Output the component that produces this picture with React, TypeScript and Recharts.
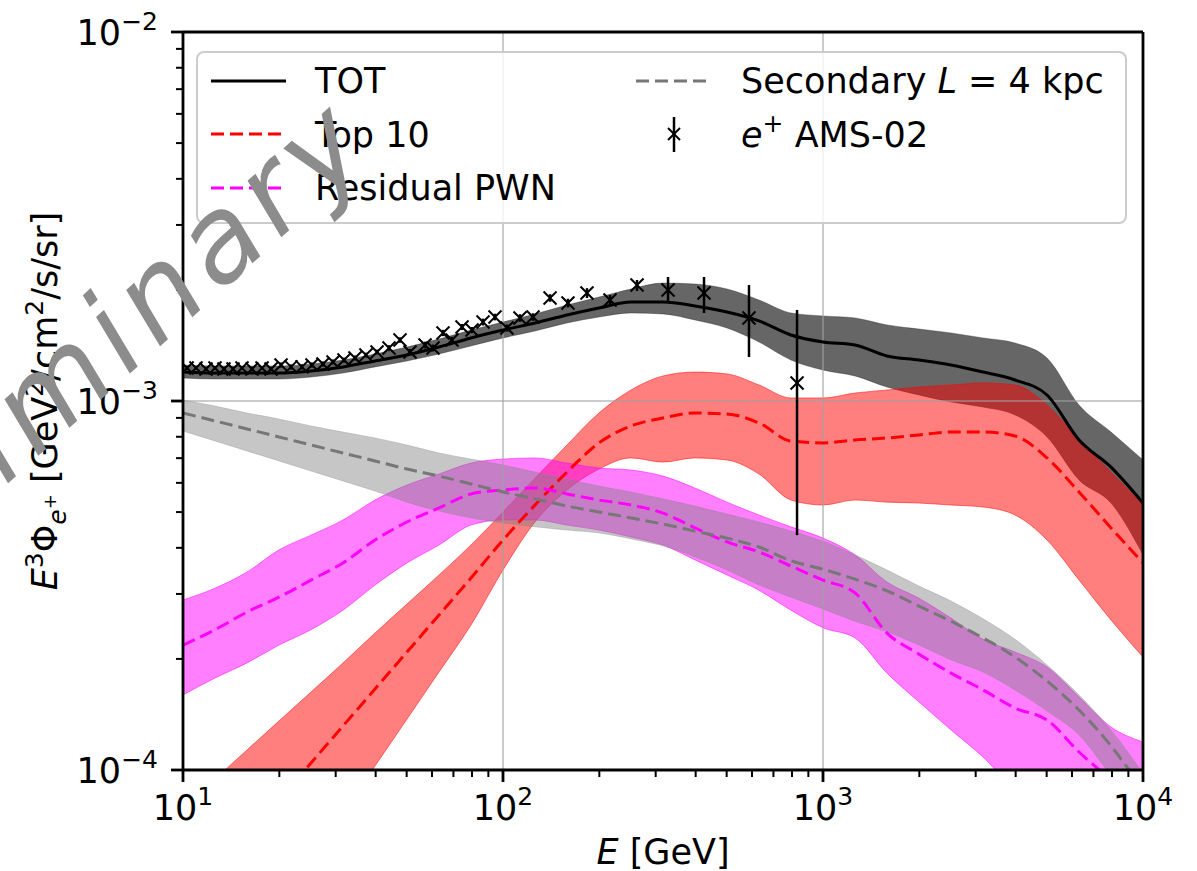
import React from "react";
import { ComposedChart, Area, Line, Scatter, ErrorBar, XAxis, YAxis, ReferenceLine } from "recharts";

document.body.style.margin = "0";

const FONT = "DejaVu Sans";
const W = 1197;
const H = 871;
const PLOT_LEFT = 183;
const PLOT_BOTTOM = 770;

// model grid, E in GeV
const energy = [10, 12.59, 15.85, 19.95, 25.12, 31.62, 39.81, 50.12, 63.1, 79.43, 100, 125.9, 158.5, 199.5, 251.2, 316.2, 398.1, 501.2, 631, 794.3, 1000, 1259, 1585, 1995, 2512, 3162, 3981, 5012, 6310, 7943, 10000];

// all fluxes in units of 1e-4 GeV^2/cm^2/s/sr
const totMid = [11.98, 11.91, 11.91, 11.91, 12.06, 12.37, 12.84, 13.32, 14.01, 14.82, 15.57, 16.27, 17.11, 17.87, 18.55, 18.55, 18.09, 17.42, 16.48, 15.1, 14.45, 14.18, 13.24, 12.91, 12.52, 11.98, 11.4, 10.38, 7.84, 6.62, 5.29];
const totHigh = [12.52, 12.44, 12.44, 12.44, 12.6, 12.91, 13.41, 14.01, 14.72, 15.57, 16.37, 17.21, 18.2, 19.13, 20.12, 20.88, 20.75, 20.12, 18.78, 17.32, 17.0, 16.79, 16.07, 15.67, 15.29, 14.82, 14.36, 13.08, 9.75, 8.24, 6.92];
const totLow = [11.54, 11.47, 11.47, 11.47, 11.61, 11.91, 12.37, 12.84, 13.41, 14.1, 14.82, 15.48, 16.27, 16.89, 17.32, 17.21, 16.58, 15.77, 14.45, 12.91, 12.13, 11.69, 10.91, 10.38, 9.94, 9.63, 9.17, 7.99, 6.11, 5.29, 3.83];

const top10Mid = [0.415, 0.523, 0.658, 0.829, 1.045, 1.316, 1.658, 2.088, 2.631, 3.314, 4.201, 5.225, 6.42, 7.7, 8.56, 8.99, 9.28, 9.22, 8.72, 7.79, 7.7, 7.84, 7.94, 8.09, 8.24, 8.24, 8.04, 7.01, 5.67, 4.53, 3.64];
const top10High = [0.789, 0.945, 1.133, 1.358, 1.627, 1.95, 2.351, 2.818, 3.377, 4.072, 5.003, 6.18, 7.6, 9.28, 10.71, 11.69, 11.98, 11.84, 11.05, 10.19, 10.19, 10.51, 10.71, 10.91, 11.05, 11.19, 11.05, 9.75, 7.84, 6.42, 5.225];
const top10Low = [0.179, 0.24, 0.321, 0.428, 0.574, 0.77, 1.025, 1.374, 1.843, 2.471, 3.483, 4.7, 5.74, 6.54, 7.01, 6.83, 7.01, 6.92, 6.34, 5.39, 5.225, 5.39, 5.32, 5.29, 5.225, 5.16, 4.91, 4.201, 3.273, 2.55, 2.024];

const pwnMid = [2.18, 2.4, 2.68, 2.94, 3.27, 3.64, 4.2, 4.7, 5.13, 5.6, 5.74, 5.81, 5.6, 5.39, 5.225, 4.97, 4.53, 4.15, 3.9, 3.57, 3.27, 3.02, 2.35, 2.06, 1.83, 1.648, 1.472, 1.366, 1.119, 0.939, 0.779];
const pwnHigh = [2.89, 3.11, 3.44, 3.95, 4.33, 4.76, 5.39, 5.92, 6.34, 6.79, 6.96, 7.01, 6.79, 6.58, 6.5, 6.26, 5.81, 5.32, 4.91, 4.56, 4.25, 3.83, 3.23, 2.92, 2.58, 2.26, 2.088, 1.901, 1.577, 1.308, 1.191];
const pwnLow = [1.597, 1.775, 1.95, 2.18, 2.4, 2.71, 3.17, 3.64, 4.07, 4.61, 4.76, 4.76, 4.61, 4.47, 4.28, 4.07, 3.71, 3.377, 3.07, 2.71, 2.43, 2.28, 1.83, 1.529, 1.284, 1.084, 0.883, 0.779, 0.688, 0.626, 0.57];

const secMid = [9.28, 8.83, 8.4, 7.99, 7.6, 7.23, 6.88, 6.54, 6.26, 5.96, 5.67, 5.43, 5.19, 5.003, 4.82, 4.64, 4.44, 4.25, 4.02, 3.69, 3.5, 3.29, 3.06, 2.78, 2.53, 2.28, 2.024, 1.743, 1.454, 1.162, 0.883];
const secHigh = [10.06, 9.69, 9.28, 8.94, 8.56, 8.24, 7.94, 7.6, 7.23, 6.96, 6.71, 6.42, 6.15, 5.88, 5.67, 5.43, 5.19, 4.94, 4.7, 4.44, 4.17, 3.83, 3.483, 3.15, 2.87, 2.57, 2.26, 1.926, 1.597, 1.284, 0.981];
const secLow = [8.29, 7.79, 7.32, 6.88, 6.46, 6.07, 5.7, 5.32, 5.03, 4.82, 4.67, 4.56, 4.47, 4.39, 4.23, 4.05, 3.78, 3.483, 3.17, 2.94, 2.73, 2.53, 2.37, 2.18, 1.987, 1.843, 1.648, 1.445, 1.244, 0.969, 0.779];

// AMS-02 positrons
const amsE = [10.3, 10.98, 11.8, 12.59, 13.43, 14.33, 15.29, 16.43, 17.66, 18.84, 20.25, 21.76, 23.54, 25.3, 27.38, 29.43, 31.85, 34.47, 37.3, 40.4, 44.04, 47.66, 51.22, 57.06, 60.43, 64.94, 69.28, 74.46, 80.03, 86.6, 94.41, 102.9, 113.0, 124.1, 140.3, 159.6, 183.0, 216.0, 262.3, 327.9, 424.8, 587.1, 829.6];
const amsFlux = [12.29, 12.29, 12.21, 12.29, 12.21, 12.21, 12.29, 12.21, 12.29, 12.21, 12.52, 12.37, 12.37, 12.52, 12.6, 12.76, 12.91, 13.08, 13.32, 13.58, 13.92, 14.63, 13.58, 14.18, 13.92, 15.29, 14.63, 15.87, 15.57, 16.37, 16.89, 15.77, 16.79, 16.89, 19.02, 18.43, 19.62, 18.78, 20.62, 19.99, 19.62, 16.79, 11.19];
const amsErrLow = [0.15, 0.15, 0.15, 0.15, 0.15, 0.15, 0.15, 0.15, 0.15, 0.15, 0.2, 0.2, 0.2, 0.2, 0.2, 0.2, 0.2, 0.2, 0.2, 0.2, 0.25, 0.25, 0.25, 0.3, 0.3, 0.3, 0.3, 0.3, 0.3, 0.35, 0.35, 0.35, 0.4, 0.4, 0.45, 0.5, 0.6, 0.6, 0.75, 1.56, 2.3, 3.63, 6.86];
const amsErrHigh = [0.15, 0.15, 0.15, 0.15, 0.15, 0.15, 0.15, 0.15, 0.15, 0.15, 0.2, 0.2, 0.2, 0.2, 0.2, 0.2, 0.2, 0.2, 0.2, 0.2, 0.25, 0.25, 0.25, 0.3, 0.3, 0.3, 0.3, 0.3, 0.3, 0.35, 0.35, 0.35, 0.4, 0.4, 0.45, 0.5, 0.6, 0.6, 0.66, 1.69, 2.06, 3.83, 6.46];

const xTicks = [10, 20, 30, 40, 50, 60, 70, 80, 90, 100, 200, 300, 400, 500, 600, 700, 800, 900, 1000, 2000, 3000, 4000, 5000, 6000, 7000, 8000, 9000, 10000];
const xMajor = [10, 100, 1000, 10000];
const xMajorLabels = ["1", "2", "3", "4"];
const yTicks = [1, 2, 3, 4, 5, 6, 7, 8, 9, 10, 20, 30, 40, 50, 60, 70, 80, 90, 100];
const yMajor = [1, 10, 100];
const yMajorLabels = ["\u22124", "\u22123", "\u22122"];

const modelRows = energy.map((e, i) => ({
  e,
  tot: [totLow[i], totHigh[i]],
  totLine: totMid[i],
  top10: [top10Low[i], top10High[i]],
  top10Line: top10Mid[i],
  pwn: [pwnLow[i], pwnHigh[i]],
  pwnLine: pwnMid[i],
  sec: [secLow[i], secHigh[i]],
  secLine: secMid[i],
}));

const amsRows = amsE.map((e, i) => ({
  e,
  flux: amsFlux[i],
  err: [amsErrLow[i], amsErrHigh[i]],
}));

const XTick = (props: any) => {
  const { x, payload } = props;
  const idx = xMajor.indexOf(payload.value);
  const major = idx >= 0;
  return (
    <g>
      <line x1={x} x2={x} y1={PLOT_BOTTOM} y2={PLOT_BOTTOM + (major ? 12 : 7)} stroke="#000" strokeWidth={major ? 2.8 : 2} />
      {major && (
        <text x={x} y={820} textAnchor="middle" fontSize={35} fontFamily={FONT} fill="#000">
          10<tspan dy={-15} fontSize={25}>{xMajorLabels[idx]}</tspan>
        </text>
      )}
    </g>
  );
};

const YTick = (props: any) => {
  const { y, payload } = props;
  const idx = yMajor.indexOf(payload.value);
  const major = idx >= 0;
  return (
    <g>
      <line x1={PLOT_LEFT - (major ? 12 : 7)} x2={PLOT_LEFT} y1={y} y2={y} stroke="#000" strokeWidth={major ? 2.8 : 2} />
      {major && (
        <text x={158} y={y + 13} textAnchor="end" fontSize={35} fontFamily={FONT} fill="#000">
          10<tspan dy={-15} fontSize={25}>{yMajorLabels[idx]}</tspan>
        </text>
      )}
    </g>
  );
};

const XMarker = (props: any) => {
  const { cx, cy } = props;
  const s = 6.5;
  return (
    <g>
      <line x1={cx - s} y1={cy - s} x2={cx + s} y2={cy + s} stroke="#000" strokeWidth={2} />
      <line x1={cx - s} y1={cy + s} x2={cx + s} y2={cy - s} stroke="#000" strokeWidth={2} />
    </g>
  );
};

const gridStroke = "rgba(160,160,160,0.55)";

export default function App() {
  return (
    <div style={{ position: "relative", width: W, height: H, background: "#fff", fontFamily: FONT }}>
      <ComposedChart width={W} height={H} data={modelRows} margin={{ top: 32, right: 54, bottom: 41, left: 83 }}>
        <XAxis
          dataKey="e"
          type="number"
          scale="log"
          domain={[10, 10000]}
          allowDataOverflow
          ticks={xTicks}
          interval={0}
          tick={(p: any) => <XTick {...p} />}
          tickLine={false}
          axisLine={{ stroke: "#000", strokeWidth: 2.8 }}
          height={60}
        />
        <YAxis
          type="number"
          scale="log"
          domain={[1, 100]}
          allowDataOverflow
          ticks={yTicks}
          interval={0}
          tick={(p: any) => <YTick {...p} />}
          tickLine={false}
          axisLine={{ stroke: "#000", strokeWidth: 2.8 }}
          width={100}
        />
        <Area dataKey="tot" type="monotone" fill="#000" fillOpacity={0.6} stroke="#000" strokeOpacity={0.3} strokeWidth={1} isAnimationActive={false} />
        <Area dataKey="top10" type="monotone" fill="#ff0000" fillOpacity={0.5} stroke="#ff0000" strokeOpacity={0.5} strokeWidth={1} isAnimationActive={false} />
        <Area dataKey="pwn" type="monotone" fill="#ff00ff" fillOpacity={0.5} stroke="#ff00ff" strokeOpacity={0.5} strokeWidth={1} isAnimationActive={false} />
        <Area dataKey="sec" type="monotone" fill="#808080" fillOpacity={0.45} stroke="#808080" strokeOpacity={0.3} strokeWidth={1} isAnimationActive={false} />
        <ReferenceLine x={100} stroke={gridStroke} strokeWidth={2} ifOverflow="visible" />
        <ReferenceLine x={1000} stroke={gridStroke} strokeWidth={2} ifOverflow="visible" />
        <ReferenceLine y={10} stroke={gridStroke} strokeWidth={2} ifOverflow="visible" />
        <Line dataKey="totLine" type="monotone" stroke="#000" strokeWidth={3} dot={false} activeDot={false} isAnimationActive={false} />
        <Line dataKey="top10Line" type="monotone" stroke="#ff0000" strokeWidth={3} strokeDasharray="13 6" dot={false} activeDot={false} isAnimationActive={false} />
        <Line dataKey="pwnLine" type="monotone" stroke="#ff00ff" strokeWidth={3} strokeDasharray="13 6" dot={false} activeDot={false} isAnimationActive={false} />
        <Line dataKey="secLine" type="monotone" stroke="#777777" strokeWidth={3} strokeDasharray="13 6" dot={false} activeDot={false} isAnimationActive={false} />
        <Scatter data={amsRows} dataKey="flux" shape={<XMarker />} isAnimationActive={false}>
          <ErrorBar dataKey="err" direction="y" width={0} stroke="#000" strokeWidth={2.5} />
        </Scatter>
        <ReferenceLine y={100} stroke="#000" strokeWidth={2.8} ifOverflow="visible" />
        <ReferenceLine x={10000} stroke="#000" strokeWidth={2.8} ifOverflow="visible" />
      </ComposedChart>

      <svg width={W} height={H} style={{ position: "absolute", left: 0, top: 0, pointerEvents: "none" }} fontFamily={FONT} fontSize={35}>
        {/* axis labels */}
        <text x={663} y={864} textAnchor="middle" fill="#000">
          <tspan fontStyle="italic">E</tspan>
          <tspan>{" [GeV]"}</tspan>
        </text>
        <text transform="translate(57,401) rotate(-90)" textAnchor="middle" fill="#000">
          <tspan fontStyle="italic">E</tspan>
          <tspan dy={-14} fontSize={25}>3</tspan>
          <tspan dy={14}>Φ</tspan>
          <tspan dy={9} fontSize={25} fontStyle="italic">e</tspan>
          <tspan dy={-10} fontSize={18}>+</tspan>
          <tspan dy={1}>{" [GeV"}</tspan>
          <tspan dy={-14} fontSize={25}>2</tspan>
          <tspan dy={14}>/cm</tspan>
          <tspan dy={-14} fontSize={25}>2</tspan>
          <tspan dy={14}>/s/sr]</tspan>
        </text>

        {/* legend */}
        <rect x={197} y={52} width={929} height={171} rx={7} fill="#fff" fillOpacity={0.8} stroke="#cccccc" strokeWidth={2} />
        <line x1={211} x2={286} y1={81} y2={81} stroke="#000" strokeWidth={3} />
        <text x={315} y={93} fill="#000">TOT</text>
        <line x1={211} x2={286} y1={134} y2={134} stroke="#ff0000" strokeWidth={3} strokeDasharray="13 6" />
        <text x={315} y={147} fill="#000">Top 10</text>
        <line x1={211} x2={286} y1={188} y2={188} stroke="#ff00ff" strokeWidth={3} strokeDasharray="13 6" />
        <text x={315} y={200} fill="#000">Residual PWN</text>
        <line x1={636} x2={711} y1={81} y2={81} stroke="#777777" strokeWidth={3} strokeDasharray="13 6" />
        <text x={741} y={93} fill="#000">
          <tspan>{"Secondary "}</tspan>
          <tspan fontStyle="italic">L</tspan>
          <tspan>{" = 4 kpc"}</tspan>
        </text>
        <line x1={674} x2={674} y1={117} y2={152} stroke="#000" strokeWidth={2.5} />
        <line x1={668} x2={680} y1={128} y2={140} stroke="#000" strokeWidth={2} />
        <line x1={668} x2={680} y1={140} y2={128} stroke="#000" strokeWidth={2} />
        <text x={741} y={147} fill="#000">
          <tspan fontStyle="italic">e</tspan>
          <tspan dy={-15} fontSize={25}>+</tspan>
          <tspan dy={15}>{" AMS-02"}</tspan>
        </text>

        {/* watermark */}
        <text x={378} y={150} textAnchor="end" transform="rotate(-42 378 150)" fontSize={118} fontStyle="italic" letterSpacing={8} fill="#8c8c8c">
          Preliminary
        </text>
      </svg>
    </div>
  );
}
